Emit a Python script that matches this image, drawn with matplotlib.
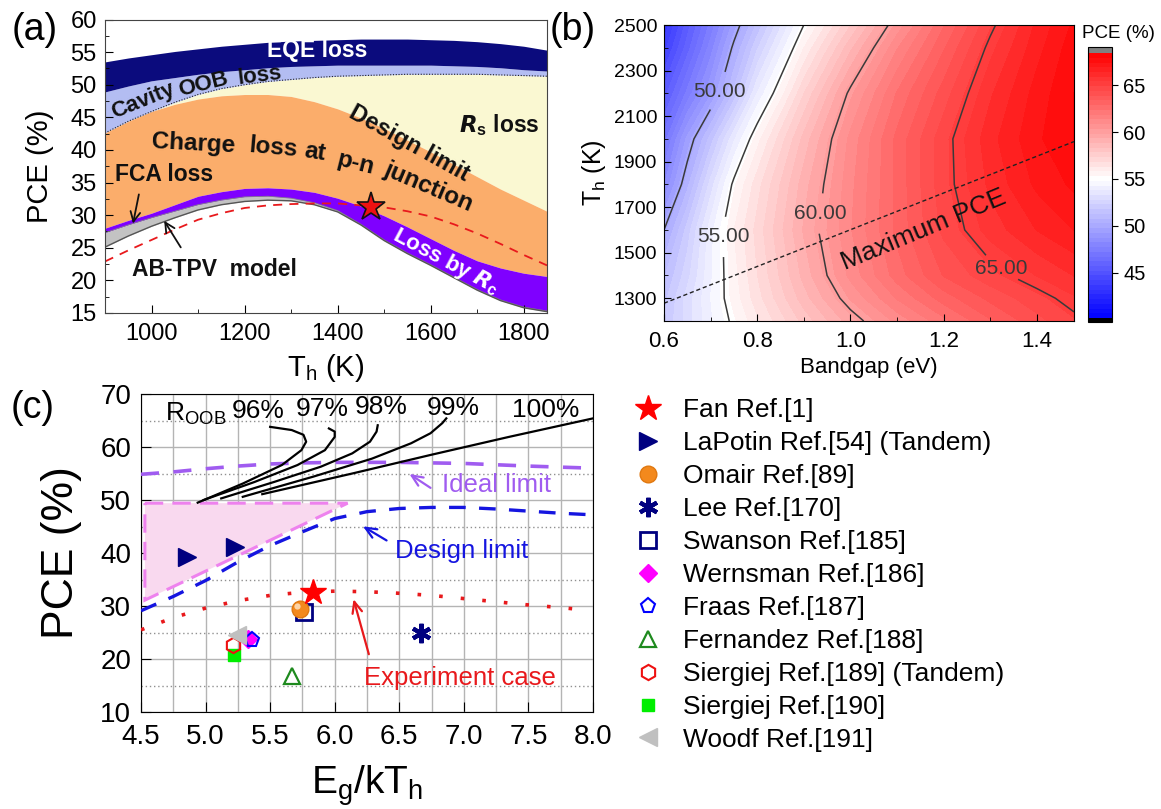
import numpy as np
import matplotlib
matplotlib.use('Agg')
import matplotlib.pyplot as plt
from matplotlib.colors import LinearSegmentedColormap
from matplotlib.ticker import MultipleLocator
from matplotlib.transforms import offset_copy

plt.rcParams['font.family'] = ['Liberation Sans', 'DejaVu Sans']
plt.rcParams['mathtext.fontset'] = 'custom'
plt.rcParams['mathtext.rm'] = 'Liberation Sans'
plt.rcParams['mathtext.it'] = 'Liberation Sans:italic'
plt.rcParams['mathtext.bf'] = 'Liberation Sans:bold'

# ---------------- (a) loss breakdown vs emitter temperature ----------------
T_a = [900, 950, 1000, 1050, 1100, 1150, 1200, 1250, 1300, 1350, 1400,
       1450, 1500, 1550, 1600, 1650, 1700, 1750, 1800, 1850]
eqe_top = [53.5, 54.1, 54.6, 55.1, 55.5, 55.9, 56.2, 56.5, 56.7, 56.8, 56.9,
           57.0, 57.0, 57.0, 56.9, 56.8, 56.6, 56.3, 55.9, 55.3]
eqe_bot = [48.9, 49.8, 50.6, 51.1, 51.6, 52.0, 52.3, 52.6, 52.8, 52.9, 53.0,
           53.0, 53.0, 53.0, 53.0, 52.9, 52.8, 52.6, 52.3, 52.1]
cavity_bot = [42.6, 44.4, 45.9, 47.3, 48.5, 49.4, 50.0, 50.5, 50.8, 51.1, 51.3,
              51.4, 51.5, 51.6, 51.6, 51.6, 51.6, 51.5, 51.4, 51.3]
design_a = [42.6, 44.4, 45.9, 47.0, 47.8, 48.3, 48.5, 48.5, 48.2, 47.4, 46.3,
            44.9, 43.3, 41.5, 39.7, 37.8, 35.9, 34.0, 32.3, 30.6]
rc_top = [28.0, 29.2, 30.3, 31.6, 32.9, 33.6, 34.1, 34.2, 34.0, 33.5, 32.6,
          31.4, 29.9, 28.2, 26.4, 24.6, 23.0, 21.9, 21.1, 20.6]
rc_bot = [27.3, 28.5, 29.6, 30.6, 31.6, 32.3, 32.8, 32.9, 32.6, 31.9, 30.7,
          28.6, 26.2, 24.2, 22.4, 20.5, 18.6, 17.0, 15.9, 15.3]
abtpv = [25.1, 26.8, 28.3, 29.6, 30.8, 31.6, 32.1, 32.3, 32.2, 31.6, 30.5,
         28.5, 26.1, 24.1, 22.3, 20.4, 18.5, 16.9, 15.8, 15.2]
experiment_a = [22.9, 24.6, 26.2, 27.8, 29.3, 30.3, 31.1, 31.5, 31.7, 31.8, 31.8,
                31.5, 31.2, 30.6, 29.8, 28.6, 27.2, 25.6, 23.9, 22.3]
star_T = [1472]
star_pce = [31.3]

# ---------------- (b) PCE map over bandgap and emitter temperature ----------------
Eg_b = [0.60, 0.65, 0.70, 0.75, 0.80, 0.90, 1.00, 1.10, 1.20, 1.30, 1.40, 1.48]
Th_b = [1200, 1300, 1400, 1600, 1800, 2000, 2200, 2400, 2500]
pce_map = [
    [51.8, 53.0, 54.2, 55.2, 56.2, 58.0, 59.6, 61.0, 62.2, 63.3, 64.2, 64.8],
    [51.6, 53.0, 54.3, 55.5, 56.6, 58.6, 60.4, 61.9, 63.1, 64.0, 64.7, 65.3],
    [51.2, 52.6, 54.2, 55.6, 56.8, 59.0, 61.0, 62.6, 63.9, 64.7, 65.4, 65.9],
    [50.0, 52.0, 54.1, 55.8, 57.0, 59.4, 61.3, 63.0, 64.5, 65.6, 66.4, 66.9],
    [48.2, 50.6, 53.0, 55.2, 56.6, 59.1, 61.2, 63.0, 64.7, 66.0, 67.0, 67.5],
    [47.0, 49.4, 51.5, 53.7, 55.6, 58.5, 61.0, 63.0, 64.7, 66.2, 67.3, 67.9],
    [45.5, 47.4, 49.2, 51.4, 53.8, 57.3, 60.2, 62.4, 64.1, 65.8, 67.1, 67.9],
    [44.0, 46.0, 48.0, 50.2, 52.2, 55.8, 58.7, 61.3, 63.3, 65.2, 66.7, 67.7],
    [43.3, 45.5, 47.4, 49.5, 51.4, 55.0, 57.8, 60.5, 62.8, 64.8, 66.5, 67.5],
]
contour_levels = [50, 55, 60, 65]
max_pce_Eg = [0.60, 1.48]
max_pce_Th = [1278, 1988]

# ---------------- (c) PCE vs Eg/kTh ----------------
ideal_x = [4.5, 4.75, 5.0, 5.25, 5.5, 5.75, 6.0, 6.5, 7.0, 7.5, 8.0]
ideal_y = [54.85, 55.3, 55.9, 56.4, 56.8, 57.0, 57.1, 57.1, 56.9, 56.4, 56.0]
design_x = [4.5, 4.75, 5.0, 5.25, 5.5, 5.75, 6.0, 6.25, 6.5, 6.75, 7.0, 7.25, 7.5, 7.75, 8.0]
design_y = [29.1, 31.8, 34.8, 38.3, 41.4, 44.0, 46.5, 47.8, 48.4, 48.6, 48.6, 48.3, 47.9, 47.5, 47.2]
exp_x = [4.5, 4.75, 5.0, 5.25, 5.5, 5.75, 6.0, 6.25, 6.5, 6.75, 7.0, 7.25, 7.5, 7.75, 7.92]
exp_y = [25.5, 27.8, 29.6, 31.0, 32.0, 32.6, 32.8, 32.7, 32.4, 32.0, 31.4, 30.8, 30.2, 29.7, 29.3]
region_x = [4.53, 6.10, 4.53]
region_y = [49.4, 49.4, 31.1]

roob_labels = ['96%', '97%', '98%', '99%', '100%']
roob_x = [
    [4.939, 5.288, 5.591, 5.742, 5.779, 5.758, 5.667, 5.50],
    [4.985, 5.379, 5.712, 5.924, 6.00, 6.00, 5.955],
    [5.121, 5.53, 5.894, 6.136, 6.273, 6.324, 6.333],
    [5.288, 5.833, 6.288, 6.591, 6.742, 6.833, 6.864],
    [5.439, 6.136, 6.742, 7.348, 8.0],
]
roob_y = [
    [49.5, 53.1, 56.6, 59.4, 61.0, 62.3, 63.2, 63.8],
    [50.0, 53.4, 56.6, 59.4, 61.9, 62.9, 63.5],
    [50.3, 53.4, 56.3, 58.8, 61.0, 62.9, 64.1],
    [50.6, 54.4, 57.8, 60.7, 62.6, 64.5, 65.4],
    [51.1, 55.0, 58.5, 61.9, 65.4],
]
roob_label_x = [5.41, 5.90, 6.36, 6.92, 7.63]
roob_label_y = [66.7, 67.2, 67.5, 67.3, 66.9]

refs = [
    # label, x, y, marker style
    ('Fan Ref.[1]', [5.83], [32.7], dict(marker='*', ms=19, mfc='#ff0000', mec='#ff0000', zorder=9)),
    ('LaPotin Ref.[54] (Tandem)', [4.86, 5.23], [39.3, 41.2], dict(marker='>', ms=13, mfc='#000080', mec='#000080', zorder=6)),
    ('Omair Ref.[89]', [5.73], [29.4], dict(marker='o', ms=12, mfc='#f3891d', mec='#e07810', mew=1, zorder=8)),
    ('Lee Ref.[170]', [6.67], [25.0], dict(marker=(6, 2, 0), ms=14, mfc='#000080', mec='#000080', mew=3, zorder=6)),
    ('Swanson Ref.[185]', [5.76], [28.8], dict(marker='s', ms=11, mfc='none', mec='#000080', mew=2, zorder=7)),
    ('Wernsman Ref.[186]', [5.33], [23.7], dict(marker='D', ms=9, mfc='#ff00ff', mec='#ff00ff', zorder=6)),
    ('Fraas Ref.[187]', [5.36], [23.6], dict(marker='p', ms=11, mfc='none', mec='#0000ff', mew=1.5, zorder=7)),
    ('Fernandez Ref.[188]', [5.67], [16.7], dict(marker='^', ms=12, mfc='none', mec='#1e8a1e', mew=1.6, zorder=6)),
    ('Siergiej Ref.[189] (Tandem)', [5.21], [22.6], dict(marker='h', ms=11, mfc='none', mec='#ee1111', mew=1.5, zorder=7)),
    ('Siergiej Ref.[190]', [5.22], [20.8], dict(marker='s', ms=9, mfc='#00ee00', mec='#00ee00', zorder=6)),
    ('Woodf Ref.[191]', [5.24], [24.5], dict(marker='<', ms=13, mfc='#c0c0c0', mec='#c0c0c0', zorder=8)),
]

W, H = 1161, 809
fig = plt.figure(figsize=(W / 100, H / 100), dpi=100)


def box(l, t, r, b):
    return [l / W, 1 - b / H, (r - l) / W, (b - t) / H]


axa = fig.add_axes(box(105, 19.5, 547, 313))
axb = fig.add_axes(box(664, 25, 1074, 321))
cax = fig.add_axes(box(1088, 47, 1112, 322))
axc = fig.add_axes(box(141, 394, 593, 712))

# ---- panel (a)
axa.fill_between(T_a, design_a, cavity_bot, color='#faf8d2', lw=0)
axa.fill_between(T_a, cavity_bot, eqe_bot, color='#b3bdf2', lw=0)
axa.fill_between(T_a, eqe_bot, eqe_top, color='#0b0b7d', lw=0)
axa.fill_between(T_a, rc_top, design_a, color='#fbad6b', lw=0)
axa.fill_between(T_a, rc_bot, rc_top, color='#7f00ff', lw=0)
axa.fill_between(T_a, abtpv, rc_bot, color='#c3c3c3', lw=0)
axa.plot(T_a, cavity_bot, color='#222222', ls=(0, (1, 1.5)), lw=0.8)
axa.plot(T_a, rc_bot, color='#888888', lw=0.6)
axa.plot(T_a, abtpv, color='#555555', lw=1.0)
axa.plot(T_a, experiment_a, color='#e8191c', ls=(0, (5, 4)), lw=1.3)
axa.plot(star_T, star_pce, ls='none', marker='*', ms=21, mfc='#ee1111', mec='#111111', mew=1.2, zorder=5)

axa.set_xlim(900, 1850)
axa.set_ylim(15, 60)
axa.xaxis.set_major_locator(MultipleLocator(200))
axa.xaxis.set_minor_locator(MultipleLocator(100))
axa.yaxis.set_major_locator(MultipleLocator(5))
axa.yaxis.set_minor_locator(MultipleLocator(2.5))
axa.tick_params(which='both', direction='in', labelsize=17, top=False, right=False)
axa.tick_params(axis='x', pad=7)
axa.tick_params(axis='y', pad=6)
axa.tick_params(which='major', length=6)
axa.tick_params(which='minor', length=3)
axa.set_xlabel('T$_\\mathregular{h}$ (K)', fontsize=21, labelpad=5)
axa.set_ylabel('PCE (%)', fontsize=21, labelpad=12)
for s in axa.spines.values():
    s.set_color('#444444')

bold = dict(fontweight='bold', ha='center', va='center', rotation_mode='anchor')
axa.text(1357, 55.2, 'EQE loss', color='white', fontsize=16.5, **bold)
axa.text(982, 47.5, 'Cavity', color='#111111', fontsize=16, rotation=22, **bold)
axa.text(1112, 50.0, 'OOB', color='#111111', fontsize=16, rotation=14, **bold)
axa.text(1232, 51.3, 'loss', color='#111111', fontsize=16, rotation=7, **bold)
axa.text(1553, 41.0, 'Design limit', color='#111111', fontsize=17, rotation=-29, **bold)
axa.text(1748, 43.8, '$\\mathbfit{R}_\\mathbf{s}$ loss', color='#111111', fontsize=16.5, **bold)
for word, tx, ty, rot in [('Charge', 1090, 40.9, -3), ('loss', 1262, 40.4, -5),
                          ('at', 1352, 39.6, -9), ('p-n', 1438, 37.9, -14),
                          ('junction', 1595, 34.3, -23)]:
    axa.text(tx, ty, word, color='#111111', fontsize=17.5, rotation=rot, **bold)
axa.text(1028, 36.2, 'FCA loss', color='#111111', fontsize=16.5, **bold)
axa.text(1135, 21.7, 'AB-TPV  model', color='#111111', fontsize=16.5, **bold)
axa.text(1633, 22.9, 'Loss by $\\mathbfit{R}_\\mathbf{c}$', color='white', fontsize=16, rotation=-28, **bold)
axa.annotate('', xy=(959, 28.3), xytext=(974, 33.6),
             arrowprops=dict(arrowstyle='->,head_width=0.35,head_length=0.7', color='#111111', lw=1.3))
axa.annotate('', xy=(1024, 29.5), xytext=(1066, 24.7),
             arrowprops=dict(arrowstyle='->,head_width=0.35,head_length=0.7', color='#111111', lw=1.3))

# ---- panel (b)
vmin, vmax = 40.2, 68.4
cmap = LinearSegmentedColormap.from_list(
    'pce', [(0.0, '#0000ff'), ((55 - vmin) / (vmax - vmin), '#ffffff'), (1.0, '#ff0000')])
cmap.set_under('#000000')
cmap.set_over('#808080')
levels = np.linspace(vmin, vmax, 57)
cf = axb.contourf(Eg_b, Th_b, pce_map, levels=levels, cmap=cmap, extend='both')
cs = axb.contour(Eg_b, Th_b, pce_map, levels=contour_levels, colors='#3a3a3a', linewidths=1.1)
clabels = axb.clabel(cs, fmt='%.2f', fontsize=15, inline=True, inline_spacing=-6,
                     manual=[(0.721, 2207), (0.733, 1570), (0.931, 1673), (1.313, 1402)])
for t in clabels:
    t.set_rotation(0)
axb.plot(max_pce_Eg, max_pce_Th, color='#222222', ls=(0, (3, 2)), lw=1.0)
axb.text(1.157, 1600, 'Maximum PCE', fontsize=19, rotation=22.5, ha='center', va='center',
         rotation_mode='anchor', color='#111111')
axb.set_xlim(0.6, 1.48)
axb.set_ylim(1200, 2500)
axb.xaxis.set_major_locator(MultipleLocator(0.2))
axb.xaxis.set_minor_locator(MultipleLocator(0.1))
axb.set_yticks([1300, 1500, 1700, 1900, 2100, 2300, 2500])
axb.yaxis.set_minor_locator(MultipleLocator(100))
axb.tick_params(which='both', direction='in', top=False, right=False)
axb.tick_params(axis='x', labelsize=16, pad=7)
axb.tick_params(axis='y', labelsize=14, pad=5)
axb.tick_params(which='major', length=5)
axb.tick_params(which='minor', length=3)
axb.set_xlabel('Bandgap (eV)', fontsize=16, labelpad=4)
axb.set_ylabel('T$_\\mathregular{h}$ (K)', fontsize=18, labelpad=4)

cb = fig.colorbar(cf, cax=cax, ticks=[45, 50, 55, 60, 65], extendrect=True, extendfrac=(0.015, 0.023))
cb.outline.set_linewidth(0.8)
cax.tick_params(labelsize=14.5, direction='out', length=4, pad=4)
fig.text(1118 / W, 1 - 33 / H, 'PCE (%)', fontsize=13.5, ha='center', va='center')

# ---- panel (c)
axc.fill(region_x, region_y, facecolor='#f9d9ef', edgecolor='#ee82ee', lw=2.2, ls=(0, (6, 3)), zorder=2)
axc.plot(ideal_x, ideal_y, color='#a05cf0', ls=(0, (5, 4)), lw=2.6, zorder=3)
axc.plot(design_x, design_y, color='#1515e0', ls=(0, (5, 4)), lw=2.4, zorder=3)
axc.plot(exp_x, exp_y, color='#e8191c', ls=(0, (1, 5)), lw=2.6, zorder=3)
for xs, ys in zip(roob_x, roob_y):
    axc.plot(xs, ys, color='black', lw=1.6, zorder=4)
axc.text(4.924, 66.3, 'R$_\\mathregular{OOB}$', fontsize=19, ha='center', va='center')
for lab, lx, ly in zip(roob_labels, roob_label_x, roob_label_y):
    axc.text(lx, ly, lab, fontsize=19, ha='center', va='center')

arrow = '->,head_width=0.35,head_length=0.8'
axc.annotate('', xy=(6.56, 55.2), xytext=(6.76, 52.0),
             arrowprops=dict(arrowstyle=arrow, color='#a05cf0', lw=1.6))
axc.text(7.25, 52.8, 'Ideal limit', fontsize=18.5, color='#a05cf0', ha='center', va='center')
axc.annotate('', xy=(6.20, 45.3), xytext=(6.42, 42.1),
             arrowprops=dict(arrowstyle=arrow, color='#1515e0', lw=1.6))
axc.text(6.98, 40.3, 'Design limit', fontsize=18.5, color='#1515e0', ha='center', va='center')
axc.annotate('', xy=(6.14, 31.8), xytext=(6.27, 20.4),
             arrowprops=dict(arrowstyle=arrow, color='#e8191c', lw=1.6))
axc.text(6.97, 16.4, 'Experiment case', fontsize=18.5, color='#e8191c', ha='center', va='center')

handles = []
for lab, xs, ys, style in refs:
    h, = axc.plot(xs, ys, ls='none', label=lab, **style)
    handles.append(h)
# specular highlight on the sphere marker
omair_x, omair_y = refs[2][1], refs[2][2]
axc.plot(omair_x, omair_y, ls='none', marker='o', ms=4.5, mfc='#ffe2bf', mec='none', alpha=0.85, zorder=8.5,
         transform=offset_copy(axc.transData, fig=fig, x=-2.2, y=2.2, units='points'))

axc.set_xlim(4.5, 8.0)
axc.set_ylim(10, 70)
axc.xaxis.set_major_locator(MultipleLocator(0.5))
axc.xaxis.set_minor_locator(MultipleLocator(0.25))
axc.yaxis.set_major_locator(MultipleLocator(10))
axc.yaxis.set_minor_locator(MultipleLocator(5))
axc.set_axisbelow(True)
axc.grid(which='major', color='#b4b4b4', lw=1.0)
axc.grid(which='minor', axis='x', color='#b4b4b4', lw=1.0)
axc.grid(which='minor', axis='y', color='#909090', lw=1.0, ls=(0, (1, 2)))
axc.tick_params(which='both', direction='in', labelsize=20)
axc.tick_params(axis='x', pad=9)
axc.tick_params(axis='y', pad=7)
axc.tick_params(which='major', length=7)
axc.tick_params(which='minor', length=0)
axc.set_xlabel('E$_\\mathregular{g}$/kT$_\\mathregular{h}$', fontsize=28, labelpad=9)
axc.set_ylabel('PCE (%)', fontsize=32, labelpad=13)

fig.legend(handles=handles, loc='upper left', bbox_to_anchor=(635 / W, 1 - 398 / H),
           frameon=False, fontsize=19, handlelength=1.0, handletextpad=0.82,
           labelspacing=0.34, borderpad=0, borderaxespad=0, numpoints=1)

fig.text(35 / W, 1 - 30 / H, '(a)', fontsize=27, ha='center', va='center')
fig.text(573 / W, 1 - 30 / H, '(b)', fontsize=27, ha='center', va='center')
fig.text(33 / W, 1 - 408 / H, '(c)', fontsize=27, ha='center', va='center')

fig.savefig('out.png', dpi=100)
